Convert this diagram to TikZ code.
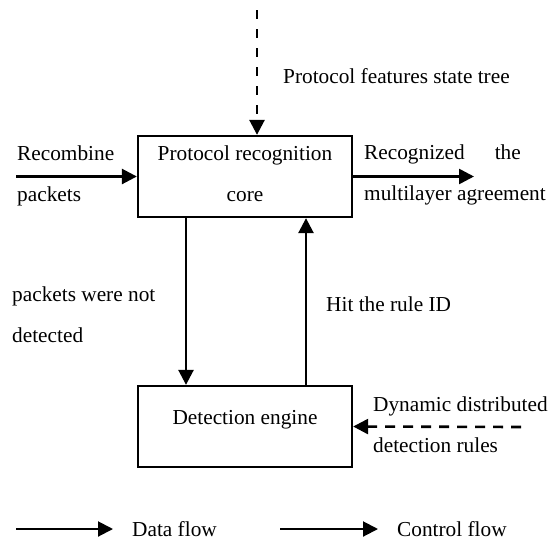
\documentclass[tikz,border=0pt]{standalone}
\usepackage{fontspec}
\setmainfont{Liberation Serif}
\usetikzlibrary{arrows.meta}
\begin{document}
\begin{tikzpicture}[x=1pt,y=-1pt,
  every node/.style={font=\fontsize{21.3pt}{41pt}\selectfont, inner sep=0pt},
  procbox/.style={draw, line width=2.3pt, minimum width=214pt, minimum height=81pt, align=center},
  lbl/.style={anchor=west, align=left},
  leglbl/.style={anchor=base west},
  arr/.style={line width=2.6pt, -{Triangle[length=15pt,width=15pt]}},
  darr/.style={line width=2.6pt, dash pattern=on 9pt off 10pt, -{Triangle[length=15pt,width=15pt]}},
  darrh/.style={line width=2.6pt, dash pattern=on 10pt off 8pt, -{Triangle[length=15pt,width=15pt]}},
  legarr/.style={line width=2pt, -{Triangle[length=15pt,width=15pt]}}
]
\useasboundingbox (0,0) rectangle (548,541);

% boxes
\node[procbox, text depth=6pt] (pr) at (245,176.5) {Protocol recognition\\core};
\node[procbox, text height=15pt, text depth=20pt] (de) at (245,426.5) {Detection engine};

% labels
\node[lbl] (lft) at (283,76) {Protocol features state tree};
\node[lbl] (lrec) at (17,176) {Recombine\\packets};
\node[lbl] (lout) at (364,174.5) {Recognized\hspace{30pt}the\\multilayer agreement};
\node[lbl] (lnot) at (12,314.5) {packets were not\\detected};
\node[lbl] (lhit) at (326,304) {Hit the rule ID};
\node[lbl] (ldyn) at (373,425) {Dynamic distributed\\detection rules};
\node[leglbl] (ldata) at (132,536) {Data flow};
\node[leglbl] (lctrl) at (397,536) {Control flow};

% free ends
\coordinate (tstart) at (257,10);
\coordinate (inL) at (16,176.5);
\coordinate (outR) at (474,176.5);
\coordinate (rstart) at (521,427);
\coordinate (l1a) at (16,529);
\coordinate (l1b) at (113,529);
\coordinate (l2a) at (280,529);
\coordinate (l2b) at (378,529);

% connectors
\draw[darr] (tstart) -- (tstart |- pr.north);
\draw[arr] (inL) -- (pr.west);
\draw[arr] (pr.east) -- (outR);
\draw[arr] ([xshift=-59pt]pr.south) -- ([xshift=-59pt]de.north);
\draw[arr] ([xshift=61pt]de.north) -- ([xshift=61pt]pr.south);
\draw[darrh] (rstart) -- (de.east);
\draw[legarr] (l1a) -- (l1b);
\draw[legarr] (l2a) -- (l2b);
\end{tikzpicture}
\end{document}
